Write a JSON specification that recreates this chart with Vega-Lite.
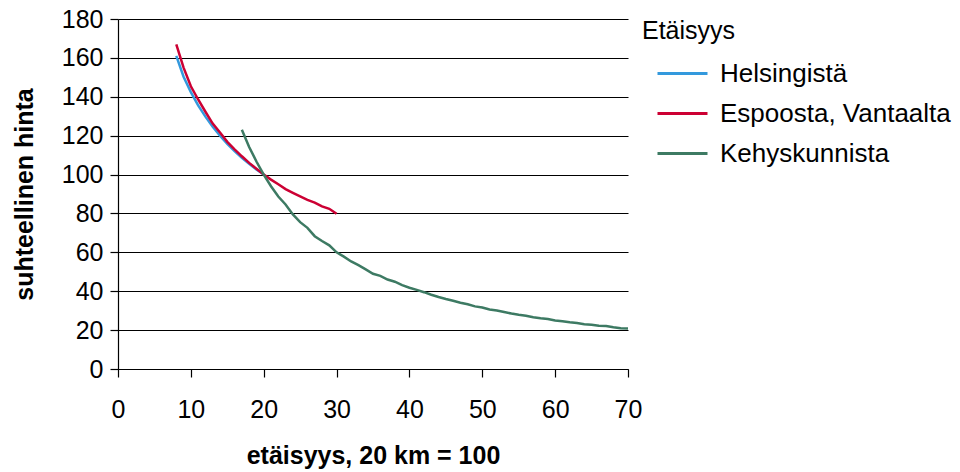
{
  "$schema": "https://vega.github.io/schema/vega-lite/v6.json",
  "autosize": "none",
  "width": 510,
  "height": 350,
  "padding": {"left": 118, "top": 19, "right": 332, "bottom": 103},
  "background": "white",
  "data": {"values": [
    {"x": 8, "y": 161, "s": "Helsingistä"},
    {"x": 9, "y": 150.3, "s": "Helsingistä"},
    {"x": 10, "y": 142.4, "s": "Helsingistä"},
    {"x": 11, "y": 135.6, "s": "Helsingistä"},
    {"x": 12, "y": 129.8, "s": "Helsingistä"},
    {"x": 13, "y": 124.6, "s": "Helsingistä"},
    {"x": 14, "y": 120.0, "s": "Helsingistä"},
    {"x": 15, "y": 115.8, "s": "Helsingistä"},
    {"x": 16, "y": 112.1, "s": "Helsingistä"},
    {"x": 17, "y": 108.6, "s": "Helsingistä"},
    {"x": 18, "y": 105.5, "s": "Helsingistä"},
    {"x": 19, "y": 102.6, "s": "Helsingistä"},
    {"x": 20, "y": 100, "s": "Helsingistä"},
    {"x": 8, "y": 167, "s": "Espoosta, Vantaalta"},
    {"x": 9, "y": 155, "s": "Espoosta, Vantaalta"},
    {"x": 10, "y": 145.4, "s": "Espoosta, Vantaalta"},
    {"x": 11, "y": 138.6, "s": "Espoosta, Vantaalta"},
    {"x": 12, "y": 132.3, "s": "Espoosta, Vantaalta"},
    {"x": 13, "y": 126.2, "s": "Espoosta, Vantaalta"},
    {"x": 14, "y": 121.6, "s": "Espoosta, Vantaalta"},
    {"x": 15, "y": 116.8, "s": "Espoosta, Vantaalta"},
    {"x": 16, "y": 113.0, "s": "Espoosta, Vantaalta"},
    {"x": 17, "y": 109.4, "s": "Espoosta, Vantaalta"},
    {"x": 18, "y": 106.0, "s": "Espoosta, Vantaalta"},
    {"x": 19, "y": 103.0, "s": "Espoosta, Vantaalta"},
    {"x": 20, "y": 100, "s": "Espoosta, Vantaalta"},
    {"x": 21, "y": 97.4, "s": "Espoosta, Vantaalta"},
    {"x": 22, "y": 95.0, "s": "Espoosta, Vantaalta"},
    {"x": 23, "y": 92.5, "s": "Espoosta, Vantaalta"},
    {"x": 24, "y": 90.6, "s": "Espoosta, Vantaalta"},
    {"x": 25, "y": 88.8, "s": "Espoosta, Vantaalta"},
    {"x": 26, "y": 87.0, "s": "Espoosta, Vantaalta"},
    {"x": 27, "y": 85.6, "s": "Espoosta, Vantaalta"},
    {"x": 28, "y": 83.6, "s": "Espoosta, Vantaalta"},
    {"x": 29, "y": 82.4, "s": "Espoosta, Vantaalta"},
    {"x": 30, "y": 79.8, "s": "Espoosta, Vantaalta"},
    {"x": 17, "y": 123.0, "s": "Kehyskunnista"},
    {"x": 18, "y": 114.2, "s": "Kehyskunnista"},
    {"x": 19, "y": 106.7, "s": "Kehyskunnista"},
    {"x": 20, "y": 100, "s": "Kehyskunnista"},
    {"x": 21, "y": 94.0, "s": "Kehyskunnista"},
    {"x": 22, "y": 88.7, "s": "Kehyskunnista"},
    {"x": 23, "y": 84.6, "s": "Kehyskunnista"},
    {"x": 24, "y": 79.5, "s": "Kehyskunnista"},
    {"x": 25, "y": 75.5, "s": "Kehyskunnista"},
    {"x": 26, "y": 72.6, "s": "Kehyskunnista"},
    {"x": 27, "y": 68.3, "s": "Kehyskunnista"},
    {"x": 28, "y": 65.8, "s": "Kehyskunnista"},
    {"x": 29, "y": 63.6, "s": "Kehyskunnista"},
    {"x": 30, "y": 60.0, "s": "Kehyskunnista"},
    {"x": 31, "y": 57.8, "s": "Kehyskunnista"},
    {"x": 32, "y": 55.3, "s": "Kehyskunnista"},
    {"x": 33, "y": 53.4, "s": "Kehyskunnista"},
    {"x": 34, "y": 51.2, "s": "Kehyskunnista"},
    {"x": 35, "y": 49.0, "s": "Kehyskunnista"},
    {"x": 36, "y": 47.9, "s": "Kehyskunnista"},
    {"x": 37, "y": 46.0, "s": "Kehyskunnista"},
    {"x": 38, "y": 44.9, "s": "Kehyskunnista"},
    {"x": 39, "y": 43.1, "s": "Kehyskunnista"},
    {"x": 40, "y": 41.8, "s": "Kehyskunnista"},
    {"x": 41, "y": 40.7, "s": "Kehyskunnista"},
    {"x": 42, "y": 39.5, "s": "Kehyskunnista"},
    {"x": 43, "y": 38.2, "s": "Kehyskunnista"},
    {"x": 44, "y": 37.0, "s": "Kehyskunnista"},
    {"x": 45, "y": 36.0, "s": "Kehyskunnista"},
    {"x": 46, "y": 35.1, "s": "Kehyskunnista"},
    {"x": 47, "y": 34.1, "s": "Kehyskunnista"},
    {"x": 48, "y": 33.3, "s": "Kehyskunnista"},
    {"x": 49, "y": 32.2, "s": "Kehyskunnista"},
    {"x": 50, "y": 31.6, "s": "Kehyskunnista"},
    {"x": 51, "y": 30.6, "s": "Kehyskunnista"},
    {"x": 52, "y": 30.1, "s": "Kehyskunnista"},
    {"x": 53, "y": 29.3, "s": "Kehyskunnista"},
    {"x": 54, "y": 28.5, "s": "Kehyskunnista"},
    {"x": 55, "y": 27.9, "s": "Kehyskunnista"},
    {"x": 56, "y": 27.4, "s": "Kehyskunnista"},
    {"x": 57, "y": 26.6, "s": "Kehyskunnista"},
    {"x": 58, "y": 26.1, "s": "Kehyskunnista"},
    {"x": 59, "y": 25.7, "s": "Kehyskunnista"},
    {"x": 60, "y": 25.0, "s": "Kehyskunnista"},
    {"x": 61, "y": 24.6, "s": "Kehyskunnista"},
    {"x": 62, "y": 24.0, "s": "Kehyskunnista"},
    {"x": 63, "y": 23.6, "s": "Kehyskunnista"},
    {"x": 64, "y": 23.0, "s": "Kehyskunnista"},
    {"x": 65, "y": 22.7, "s": "Kehyskunnista"},
    {"x": 66, "y": 22.2, "s": "Kehyskunnista"},
    {"x": 67, "y": 22.1, "s": "Kehyskunnista"},
    {"x": 68, "y": 21.5, "s": "Kehyskunnista"},
    {"x": 69, "y": 21.0, "s": "Kehyskunnista"},
    {"x": 70, "y": 20.8, "s": "Kehyskunnista"}
  ]},
  "mark": {"type": "line", "strokeWidth": 2.5, "clip": false},
  "encoding": {
    "x": {
      "field": "x", "type": "quantitative",
      "scale": {"domain": [0, 70], "nice": false, "zero": false},
      "axis": {"title": "etäisyys, 20 km = 100", "values": [0, 10, 20, 30, 40, 50, 60, 70], "grid": false, "labelPadding": 20, "titlePadding": 21}
    },
    "y": {
      "field": "y", "type": "quantitative",
      "scale": {"domain": [0, 180], "nice": false},
      "axis": {"title": "suhteellinen hinta", "values": [0, 20, 40, 60, 80, 100, 120, 140, 160, 180], "grid": true, "labelPadding": 7, "titlePadding": 24}
    },
    "color": {
      "field": "s", "type": "nominal",
      "scale": {"domain": ["Helsingistä", "Espoosta, Vantaalta", "Kehyskunnista"], "range": ["#3399dd", "#cc0033", "#3d7a63"]},
      "legend": {"title": "Etäisyys", "orient": "none", "legendX": 524, "legendY": 0}
    },
    "order": {"field": "x", "type": "quantitative"}
  },
  "config": {
    "view": {"stroke": null},
    "font": "Liberation Sans",
    "axis": {
      "domainColor": "#000", "domainWidth": 1.2,
      "tickColor": "#000", "tickSize": 8, "tickWidth": 1.2,
      "gridColor": "#000", "gridOpacity": 1, "gridWidth": 1.2,
      "labelFont": "Liberation Sans", "labelFontSize": 25, "labelColor": "#000",
      "titleFont": "Liberation Sans", "titleFontSize": 25, "titleFontWeight": "bold", "titleColor": "#000",
      "labelFlush": false, "labelOverlap": false
    },
    "legend": {
      "titleFont": "Liberation Sans", "titleFontSize": 25, "titleFontWeight": "normal", "titleColor": "#000",
      "labelFont": "Liberation Sans", "labelFontSize": 26, "labelColor": "#000",
      "symbolType": "stroke", "symbolSize": 2500, "symbolStrokeWidth": 3,
      "symbolOffset": 14, "labelOffset": 11, "rowPadding": -5.5, "titlePadding": 3,
      "padding": 0, "labelLimit": 400
    }
  }
}
